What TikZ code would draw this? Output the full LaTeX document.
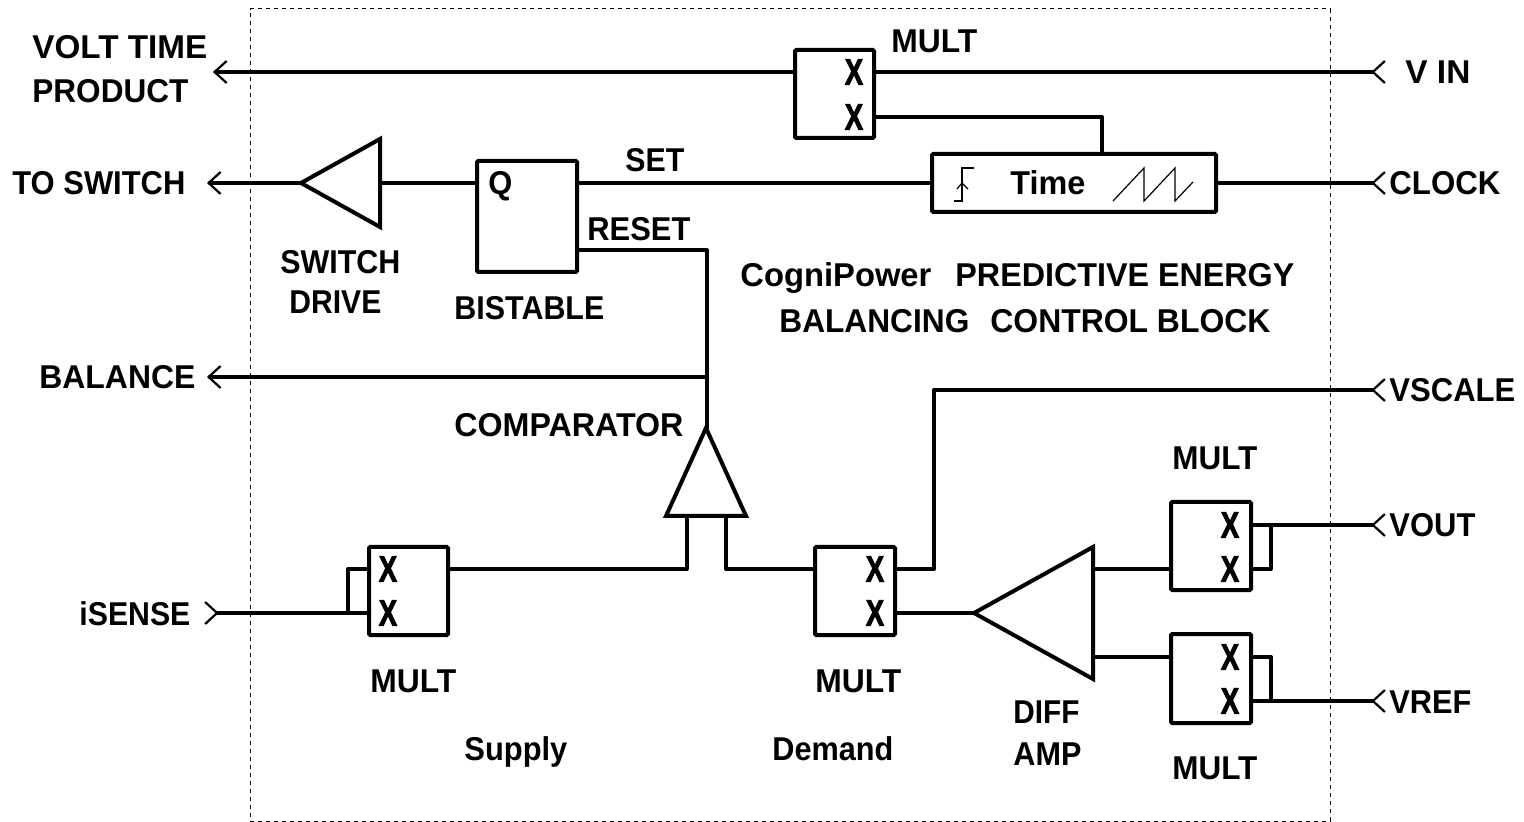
\documentclass[tikz,border=0pt]{standalone}
\usepackage{fontspec}
\usepackage{graphicx}
\setmainfont{Liberation Sans}
\newfontfamily\xmfont{Liberation Sans}[BoldFeatures={FakeBold=3}]
\usetikzlibrary{arrows.meta,shapes.geometric}
\tikzset{
  x=0.5pt,y=-0.5pt,
  wire/.style={line width=2pt,line cap=round,line join=round,black},
  outtip/.style={wire,-{Straight Barb[length=6pt,width=11pt,line width=1.1pt]}},
  intip/.style={wire,-{Straight Barb[reversed,length=6pt,width=11pt,line width=1.1pt]}},
  blk/.style={draw,line width=2pt,rounded corners=0.6pt,inner sep=0pt,outer sep=0pt,fill=white},
  tri/.style={draw,line width=2pt,isosceles triangle,isosceles triangle stretches,inner sep=0pt,outer sep=0pt,anchor=apex,fill=white,line join=miter},
  lab/.style={font=\fontsize{16.5}{18}\selectfont\bfseries,inner sep=0pt,anchor=base west},
  xmark/.style={font=\xmfont\fontsize{16.5}{18}\selectfont\bfseries,inner sep=0pt,anchor=center},
  fine/.style={line width=0.6pt,black},
}
% label: name, left x, baseline y, width in px, text
\newcommand{\lbl}[5]{\node[lab] (#1) at (#2,#3) {\resizebox{\dimexpr#4pt*1/2\relax}{\height}{#5}};}
\begin{document}
\begin{tikzpicture}
\useasboundingbox (0,0) rectangle (1524,822);
\node[draw,dash pattern=on 2.2pt off 1.8pt,line width=0.5pt,inner sep=0pt,minimum width=540pt,minimum height=406pt] (frame) at (790,415) {};

% pins
\coordinate (vtp) at (213,72);   \coordinate (vin) at (1386,72);
\coordinate (tsw) at (207,183);  \coordinate (clk) at (1386,183);
\coordinate (bal) at (207,377);  \coordinate (balj) at (707,377);
\coordinate (vsc) at (1386,390); \coordinate (vsck) at (934,390);
\coordinate (vout) at (1386,525);\coordinate (vref) at (1386,701);
\coordinate (isn) at (204,613);

% blocks
\node[blk,minimum width=39.5pt,minimum height=44pt] (mt) at (834.5,94) {};
\node[blk,minimum width=142pt,minimum height=29pt] (tb) at (1074,183) {};
\node[blk,minimum width=50pt,minimum height=55.5pt] (bs) at (527,216.5) {};
\node[blk,minimum width=39.5pt,minimum height=44pt] (ms) at (408.5,591) {};
\node[blk,minimum width=40pt,minimum height=44pt] (md) at (855,591) {};
\node[blk,minimum width=40pt,minimum height=44pt] (mu) at (1211,546) {};
\node[blk,minimum width=40pt,minimum height=44.5pt] (ml) at (1211,678.5) {};

\node[tri,shape border rotate=180,minimum width=44pt,minimum height=39.5pt] (sd) at (301,183) {};
\node[tri,shape border rotate=90,minimum width=40pt,minimum height=44pt] (cp) at (706,428) {};
\node[tri,shape border rotate=180,minimum width=66pt,minimum height=59.5pt] (da) at (974,613) {};

% connectors
\draw[outtip] (mt.west |- vtp) -- (vtp);
\draw[intip] (mt.east |- vin) -- (vin);
\draw[wire] (mt.east |- 0,117) -- (1102,117) -- (1102,154);
\draw[outtip] (sd.apex) -- (tsw);
\draw[wire] (bs.west |- tsw) -- (380,183);
\draw[wire] (tb.west) -- (bs.east |- tb.west);
\draw[intip] (tb.east) -- (clk);
\draw[wire] (bs.east |- 0,250) -- (707,250) -- (707,428);
\draw[outtip] (balj) -- (bal);
\draw[wire] (ms.east |- 0,569) -- (687,569) -- (687,516);
\draw[wire] (md.west |- 0,569) -- (726,569) -- (726,516);
\draw[intip] (md.east |- 0,569) -- (vsck |- 0,569) -- (vsck) -- (vsc);
\draw[wire] (md.east |- da.apex) -- (da.apex);
\draw[wire] (1093,569) -- (mu.west |- 0,569);
\draw[wire] (1093,657) -- (ml.west |- 0,657);
\draw[intip] (mu.east |- vout) -- (vout);
\draw[wire] (mu.east |- 0,569) -- (1271,569) -- (1271,525);
\draw[wire] (ml.east |- 0,657) -- (1271,657) -- (1271,701);
\draw[intip] (ml.east |- vref) -- (vref);
\draw[intip] (ms.west |- isn) -- (isn);
\draw[wire] (348,613) -- (348,569) -- (ms.west |- 0,569);

% block marks
\foreach \n/\px/\py in {a/854/72,b/854/117,c/388/569,d/388/613,e/875/569,f/875/613,g/1230/525,h/1230/569,i/1230/657,j/1230/701}
  \node[xmark] (x\n) at (\px,\py) {\resizebox{9pt}{12.5pt}{X}};
\lbl{q}{488}{195}{24}{Q}
\lbl{time}{1010}{195}{75}{Time}
\draw[fine] (954,201) -- (962,201) -- (962,168) -- (974,168);
\draw[fine] (957,189) -- (962,183) -- (968,189);
\draw[fine] (1113,201) -- (1144,168) -- (1144,201) -- (1175,168) -- (1175,201) -- (1193,182);

% labels
\lbl{l1}{32}{59}{175}{VOLT TIME}
\lbl{l2}{32}{103}{156}{PRODUCT}
\lbl{l3}{12}{195}{173}{TO SWITCH}
\lbl{l4}{39}{389}{156}{BALANCE}
\lbl{l5}{79}{625}{111}{iSENSE}
\lbl{l6}{1405}{84}{65}{V IN}
\lbl{l7}{1389}{195}{111}{CLOCK}
\lbl{l8}{1389}{402}{126}{VSCALE}
\lbl{l9}{1389}{537}{86}{VOUT}
\lbl{l10}{1389}{713}{82}{VREF}
\lbl{l11}{891}{53}{86}{MULT}
\lbl{l12}{625}{172}{59}{SET}
\lbl{l13}{587}{241}{103}{RESET}
\lbl{l14}{280}{274}{120}{SWITCH}
\lbl{l15}{289}{314}{92}{DRIVE}
\begin{scope}
\clip (440,290) rectangle (602,330);
\lbl{l16}{454}{320}{150}{BISTABLE}
\end{scope}
\lbl{l17}{740}{287}{191}{CogniPower}
\lbl{l18}{955}{287}{339}{PREDICTIVE ENERGY}
\lbl{l19}{779}{333}{190}{BALANCING}
\lbl{l20}{990}{333}{280}{CONTROL BLOCK}
\lbl{l21}{454}{437}{229}{COMPARATOR}
\lbl{l22}{1172}{470}{85}{MULT}
\lbl{l23}{370}{692}{86}{MULT}
\lbl{l24}{815}{692}{86}{MULT}
\lbl{l25}{1172}{779}{85}{MULT}
\lbl{l26}{1013}{723}{66}{DIFF}
\lbl{l27}{1013}{765}{68}{AMP}
\lbl{l28}{464}{760}{103}{Supply}
\lbl{l29}{772}{760}{121}{Demand}
\end{tikzpicture}
\end{document}
